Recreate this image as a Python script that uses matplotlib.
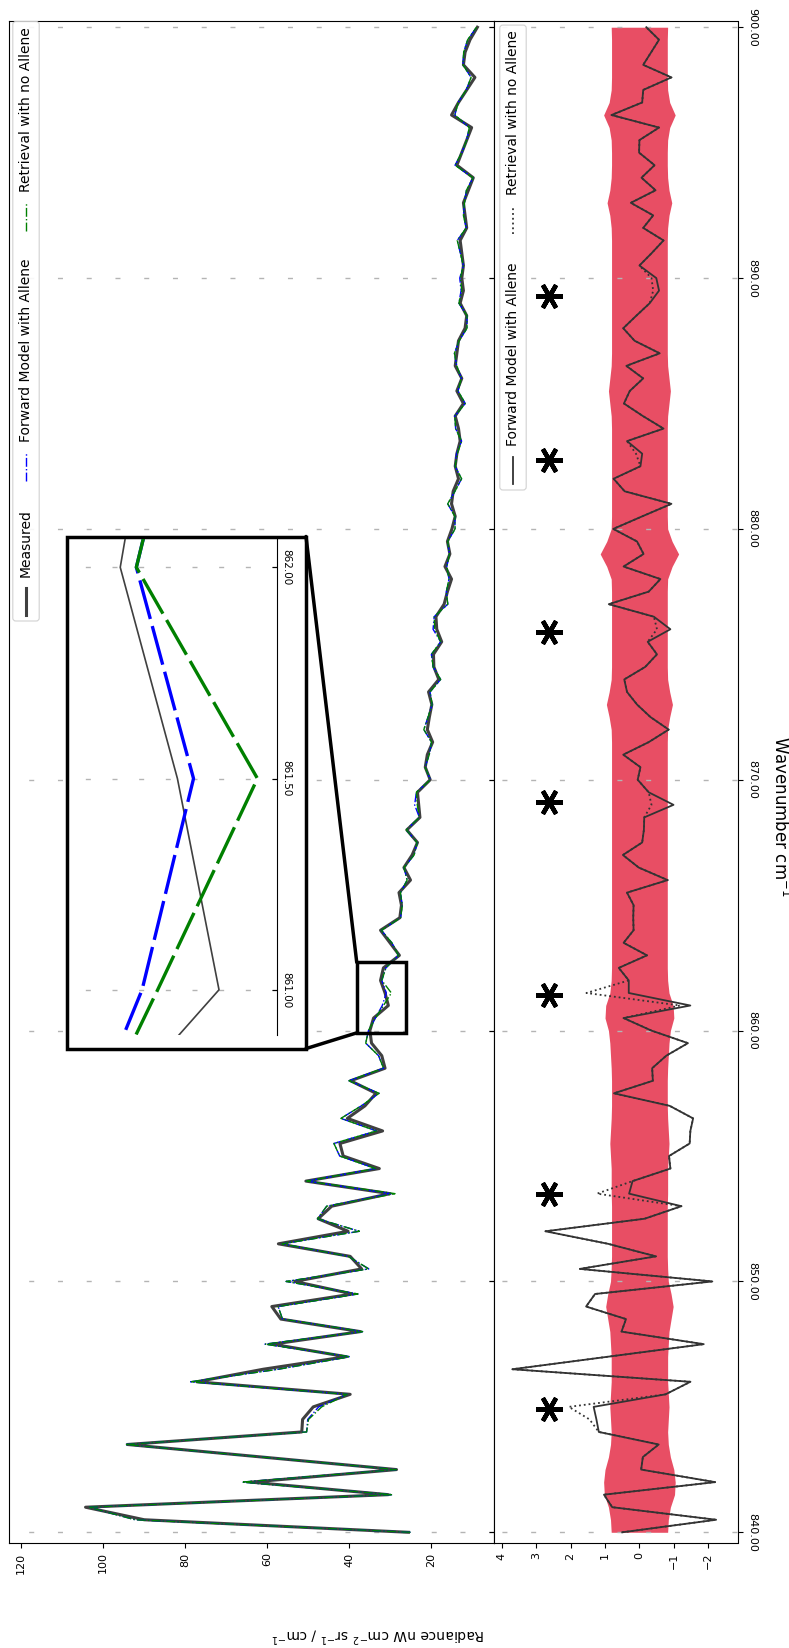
import numpy as np
import matplotlib
matplotlib.use("Agg")
import matplotlib.pyplot as plt
from matplotlib.patches import Rectangle, FancyBboxPatch, ConnectionPatch
from matplotlib.lines import Line2D
from matplotlib.transforms import IdentityTransform

W, H = 789, 1648

# spectral grid (cm^-1)
wavenumber = np.arange(840.0, 900.5, 0.5)

# measured radiance, nW cm^-2 sr^-1 / cm^-1
measured = np.array([
    25.6, 90.0, 104.3, 30.5, 64.0, 28.5, 61.3, 94.1, 51.6, 51.4,
    48.8, 39.8, 77.2, 61.0, 40.8, 58.7, 37.3, 56.7, 58.9, 39.2,
    53.3, 37.0, 39.8, 57.3, 40.3, 47.6, 44.3, 30.1, 50.6, 32.7,
    41.5, 42.3, 31.9, 40.5, 36.2, 33.5, 39.7, 31.3, 32.1, 34.6,
    35.0, 34.1, 30.5, 31.3, 32.4, 31.7, 27.8, 30.1, 32.4, 27.7,
    27.3, 27.9, 25.1, 26.7, 24.7, 23.4, 26.0, 22.8, 23.1, 23.4,
    20.3, 21.5, 21.0, 19.7, 21.0, 20.5, 19.9, 20.7, 18.2, 19.4,
    19.5, 17.5, 18.7, 18.9, 16.9, 16.1, 15.1, 16.7, 15.5, 16.1,
    15.0, 14.2, 15.1, 14.7, 13.4, 14.2, 13.8, 13.0, 13.4, 14.2,
    12.2, 13.8, 12.6, 14.2, 13.8, 13.4, 11.8, 11.4, 13.0, 12.2,
    12.6, 12.2, 12.6, 13.0, 11.4, 11.8, 12.2, 11.0, 9.8, 13.8,
    12.6, 11.4, 10.2, 15.1, 13.4, 11.4, 9.4, 12.2, 11.8, 10.6,
    8.8])

# residual measured - forward model (with allene)
resid_allene = np.array([
    0.50, -2.23, 0.79, 1.03, -2.20, -0.05, -0.10, -0.56, 1.18, 1.25,
    1.33, -0.76, -1.48, 3.69, 0.91, -1.87, 0.52, 0.39, 1.55, 1.29,
    -2.12, 1.73, -0.48, 0.91, 2.73, -0.15, -1.22, 0.30, 0.20, -0.90,
    -0.86, -1.46, -1.48, -1.56, -0.88, 0.74, -0.39, -0.37, -0.78, -1.41,
    -0.35, 0.46, -1.48, 0.31, 0.31, 0.60, -0.22, 0.46, 0.17, 0.18,
    0.17, 0.36, -0.82, 0.02, 0.48, -0.08, -0.13, -0.14, -0.99, -0.27,
    0.05, -0.03, 0.47, -0.27, -0.85, -0.32, 0.07, 0.36, 0.44, -0.17,
    -0.51, -0.24, -0.90, -0.42, 0.89, -0.27, -0.61, 0.46, -0.12, 0.07,
    0.76, -0.08, -0.93, 0.43, 0.75, -0.03, -0.08, 0.36, -0.70, -0.10,
    0.45, 0.28, -0.11, 0.38, -0.59, 0.14, 0.47, 0.09, -0.30, -0.57,
    -0.49, 0.00, -0.36, -0.70, -0.11, -0.40, 0.25, -0.47, -0.06, -0.44,
    0.01, 0.00, -0.57, 0.81, -0.08, -0.11, -0.93, -0.11, -0.34, -0.57,
    -0.20])

# retrieval without allene: differs from the above only near allene lines
no_allene_points = {844.5: 1.45, 845.0: 2.05, 853.5: 1.23, 861.0: -1.18,
                    861.5: 1.54, 869.0: -0.35, 876.0: -0.51, 883.0: 0.10,
                    889.5: -0.40, 890.0: -0.35}
resid_no_allene = resid_allene.copy()
for w, v in no_allene_points.items():
    resid_no_allene[np.argmin(abs(wavenumber - w))] = v

# measurement noise (half width of the red band)
noise = np.array([
    0.82, 0.84, 0.90, 1.02, 1.04, 1.00, 0.90, 0.84, 0.82, 0.84,
    0.86, 0.84, 0.82, 0.82, 0.82, 0.84, 0.86, 0.92, 0.98, 0.92,
    0.84, 0.82, 0.81, 0.81, 0.81, 0.81, 0.81, 0.82, 0.82, 0.82,
    0.84, 0.86, 0.84, 0.82, 0.81, 0.81, 0.81, 0.82, 0.84, 0.86,
    0.90, 1.00, 0.98, 0.86, 0.82, 0.81, 0.81, 0.81, 0.81, 0.81,
    0.81, 0.81, 0.81, 0.81, 0.81, 0.81, 0.81, 0.81, 0.81, 0.81,
    0.81, 0.81, 0.81, 0.81, 0.82, 0.88, 0.96, 0.88, 0.82, 0.81,
    0.81, 0.81, 0.81, 0.81, 0.81, 0.81, 0.82, 0.95, 1.14, 0.95,
    0.82, 0.81, 0.81, 0.81, 0.81, 0.81, 0.81, 0.81, 0.81, 0.82,
    0.86, 0.90, 0.86, 0.82, 0.81, 0.81, 0.81, 0.81, 0.81, 0.81,
    0.81, 0.81, 0.81, 0.81, 0.82, 0.86, 0.94, 0.86, 0.82, 0.81,
    0.81, 0.82, 0.88, 1.04, 0.88, 0.82, 0.81, 0.81, 0.81, 0.81,
    0.82])

forward = measured - resid_allene
retrieval = measured - resid_no_allene

# allene features marked in the residual panel
star_wn = [844.9, 853.5, 861.4, 869.1, 875.9, 882.75, 889.27]
star_r = 2.64

# zoomed region
zoom_wn = (859.91, 862.72)
zoom_rad = (26.2, 38.2)

gray = '#404040'
band = '#e84e64'
gridstyle = dict(color='#b4b4b4', lw=1)
wn_lim = (839.585, 900.26)


def box(x0, y0, x1, y1):
    return [x0 / W, 1 - y1 / H, (x1 - x0) / W, (y1 - y0) / H]


fig = plt.figure(figsize=(W / 100, H / 100), dpi=100)
ax1 = fig.add_axes(box(8.6, 20.7, 494.2, 1542.7))
ax2 = fig.add_axes(box(494.2, 20.7, 737.5, 1542.7))

# ---- radiance panel
ax1.plot(measured, wavenumber, color=gray, lw=2.2, zorder=2)
ax1.plot(forward, wavenumber, color='blue', lw=1, ls='-.', zorder=3)
ax1.plot(retrieval, wavenumber, color='green', lw=1, ls='-.', zorder=3)
ax1.set_xlim(123.05, 4.7)
ax1.set_ylim(*wn_lim)
ax1.set_xticks([20, 40, 60, 80, 100, 120])
ax1.tick_params(axis='x', labelsize=8, labelrotation=90)
ax1.set_yticks(np.arange(840, 901, 10))
ax1.yaxis.tick_right()
ax1.tick_params(axis='y', direction='in', labelright=False)
ax1.grid(axis='y', linestyle=(6.5, (3.6, 17.1)), **gridstyle)
ax1.add_patch(Rectangle((zoom_rad[0], zoom_wn[0]), zoom_rad[1] - zoom_rad[0],
                        zoom_wn[1] - zoom_wn[0], fill=False, ec='black',
                        lw=2.5, zorder=5))

# ---- residual panel
ax2.fill_betweenx(wavenumber, -noise, noise, color=band, lw=0, zorder=1)
ax2.plot(resid_no_allene, wavenumber, color='#333333', lw=1.3, ls=':', zorder=2)
ax2.plot(resid_allene, wavenumber, color='#333333', lw=1.3, zorder=3)
ax2.plot([star_r] * len(star_wn), star_wn, ls='none', marker=(6, 2, 90),
         ms=19, mew=3.2, color='black', zorder=4)
ax2.set_xlim(4.22, -2.85)
ax2.set_ylim(*wn_lim)
ax2.set_xticks(range(-2, 5))
ax2.tick_params(axis='x', labelsize=8, labelrotation=90)
ax2.yaxis.tick_right()
ax2.set_yticks(np.arange(840, 901, 10))
ax2.yaxis.set_major_formatter('{x:.2f}')
ax2.tick_params(axis='y', labelsize=8, labelrotation=-90)
plt.setp(ax2.get_yticklabels(), va='center')
ax2.grid(axis='y', linestyle=(15.0, (3.6, 17.1)), **gridstyle)
ax2.set_ylabel('Wavenumber cm$^{-1}$', rotation=-90, fontsize=12,
               ha='center', va='center')
ax2.yaxis.set_label_coords(1.175, 0.4775)

fig.text(378 / W, 1 - 1635 / H, 'Radiance nW cm$^{-2}$ sr$^{-1}$ / cm$^{-1}$',
         rotation=180, ha='center', va='center', fontsize=10)

# ---- inset
frame = Rectangle((66.7 / W, 1 - 1048.6 / H), (306 - 66.7) / W,
                  (1048.6 - 536.5) / H, transform=fig.transFigure,
                  fc='white', ec='black', lw=2.5, zorder=3)
fig.add_artist(frame)
for xa, ya, yb in [(zoom_rad[1], zoom_wn[1], 536.5), (zoom_rad[1], zoom_wn[0], 1048.6)]:
    cp = ConnectionPatch(xyA=(xa, ya), coordsA=ax1.transData,
                         xyB=(306 / W, 1 - yb / H), coordsB=fig.transFigure,
                         color='black', lw=2.5, zorder=3.5)
    fig.add_artist(cp)

axin = fig.add_axes(box(66.7, 539, 276.7, 1035))
axin.set_zorder(4)
axin.patch.set_alpha(0)
axin.plot(measured, wavenumber, color=gray, lw=1.2)
axin.plot(forward, wavenumber, color='blue', lw=2.4, ls=(0, (12, 2.2)))
axin.plot(retrieval, wavenumber, color='green', lw=2.4, ls=(0, (12, 2.2)))
axin.set_xlim(33.43, 29.39)
axin.set_ylim(860.893, 862.067)
for s in ['left', 'top', 'bottom']:
    axin.spines[s].set_visible(False)
axin.spines['right'].set_linewidth(0.8)
axin.set_xticks([])
axin.yaxis.tick_right()
axin.set_yticks([861.0, 861.5, 862.0])
axin.yaxis.set_major_formatter('{x:.2f}')
axin.tick_params(axis='y', direction='in', labelsize=7.5, labelrotation=-90)
plt.setp(axin.get_yticklabels(), va='center')
axin.grid(axis='y', linestyle=(6.0, (3.6, 15.6)), **gridstyle)

# ---- legends (drawn rotated, reading bottom to top)
renderer = fig.canvas.get_renderer()
fs = 10
em = fs * 100 / 72


def vlegend(x_mid, y_bottom, entries):
    y0 = H - y_bottom
    y = y0 + 0.4 * em
    for label, style in entries:
        fig.add_artist(Line2D([x_mid, x_mid], [y, y + 2 * em],
                              transform=IdentityTransform(), zorder=6, **style))
        y += 2.8 * em
        t = fig.text(x_mid, y, label, rotation=90, ha='center', va='bottom',
                     fontsize=fs, transform=IdentityTransform(), zorder=6)
        y = t.get_window_extent(renderer).y1 + 2.0 * em
    y_top = y - 2.0 * em + 0.4 * em
    fig.add_artist(FancyBboxPatch((x_mid - 0.95 * em, y0), 1.9 * em, y_top - y0,
                                  boxstyle='round,pad=0,rounding_size=3',
                                  transform=IdentityTransform(), fc='white',
                                  ec='#cccccc', lw=0.8, alpha=0.9, zorder=5))


vlegend(26, 621, [('Measured', dict(color=gray, lw=2.2)),
                  ('Forward Model with Allene', dict(color='blue', lw=1, ls='-.')),
                  ('Retrieval with no Allene', dict(color='green', lw=1, ls='-.'))])
vlegend(513, 490, [('Forward Model with Allene', dict(color='#333333', lw=1.3)),
                   ('Retrieval with no Allene', dict(color='#333333', lw=1.3, ls=':'))])

fig.savefig('out.png', dpi=100)
